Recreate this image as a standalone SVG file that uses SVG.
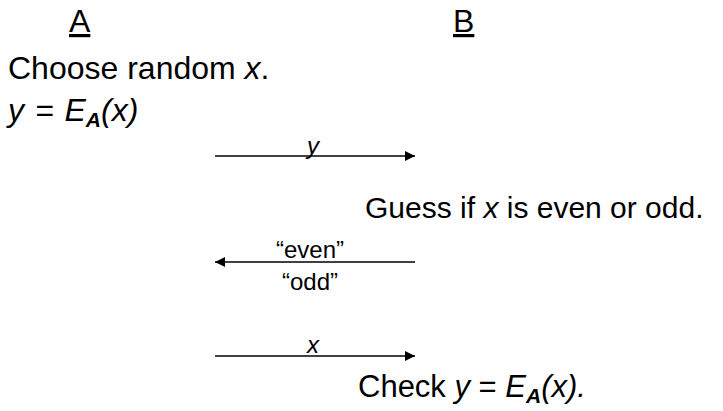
<svg xmlns="http://www.w3.org/2000/svg" width="723" height="411" viewBox="0 0 723 411">
<defs>
<style>
text{font-family:"Liberation Sans",Arial,sans-serif;fill:#000}
.big{font-size:30px}
.chk{font-size:31px}
.left{font-size:32px}
.lbl{font-size:24px}
.it{font-style:italic}
.sub{font-size:21px;font-style:italic;font-weight:bold}
.ln{stroke:#000;stroke-width:1.5;fill:none}
</style>
<marker id="ah" viewBox="0 0 10 10" refX="10" refY="5" markerWidth="11" markerHeight="10" markerUnits="userSpaceOnUse" orient="auto"><path d="M0,0 L10,5 L0,10 z" fill="#000"/></marker>
</defs>
<rect width="723" height="411" fill="#fff"/>
<g id="partyA"><text class="left" x="69" y="32" text-decoration="underline">A</text></g>
<g id="partyB"><text class="left" x="453" y="32" text-decoration="underline">B</text></g>
<g id="step1"><text class="left" x="8" y="79">Choose random <tspan class="it">x</tspan>.</text></g>
<g id="step2"><text class="left it" x="8" y="121" word-spacing="2">y = E<tspan class="sub" dy="6">A</tspan><tspan dy="-6">(x)</tspan></text></g>
<g id="step3"><text class="big" x="365" y="218">Guess if <tspan class="it">x</tspan> is even or odd.</text></g>
<g id="step4"><text class="chk" x="358" y="397">Check <tspan class="it">y</tspan> = <tspan class="it">E</tspan><tspan class="sub" dy="6">A</tspan><tspan class="it" dy="-6">(x).</tspan></text></g>
<g id="connectors">
<line class="ln" x1="215" y1="156" x2="415" y2="156" marker-end="url(#ah)"/>
<line class="ln" x1="415" y1="262" x2="215" y2="262" marker-end="url(#ah)"/>
<line class="ln" x1="215" y1="356" x2="415" y2="356" marker-end="url(#ah)"/>
<text class="lbl it" x="313" y="154" text-anchor="middle">y</text>
<text class="lbl" x="310" y="258" text-anchor="middle">“even”</text>
<text class="lbl" x="310" y="290" text-anchor="middle">“odd”</text>
<text class="lbl it" x="313" y="353" text-anchor="middle">x</text>
</g>
</svg>
